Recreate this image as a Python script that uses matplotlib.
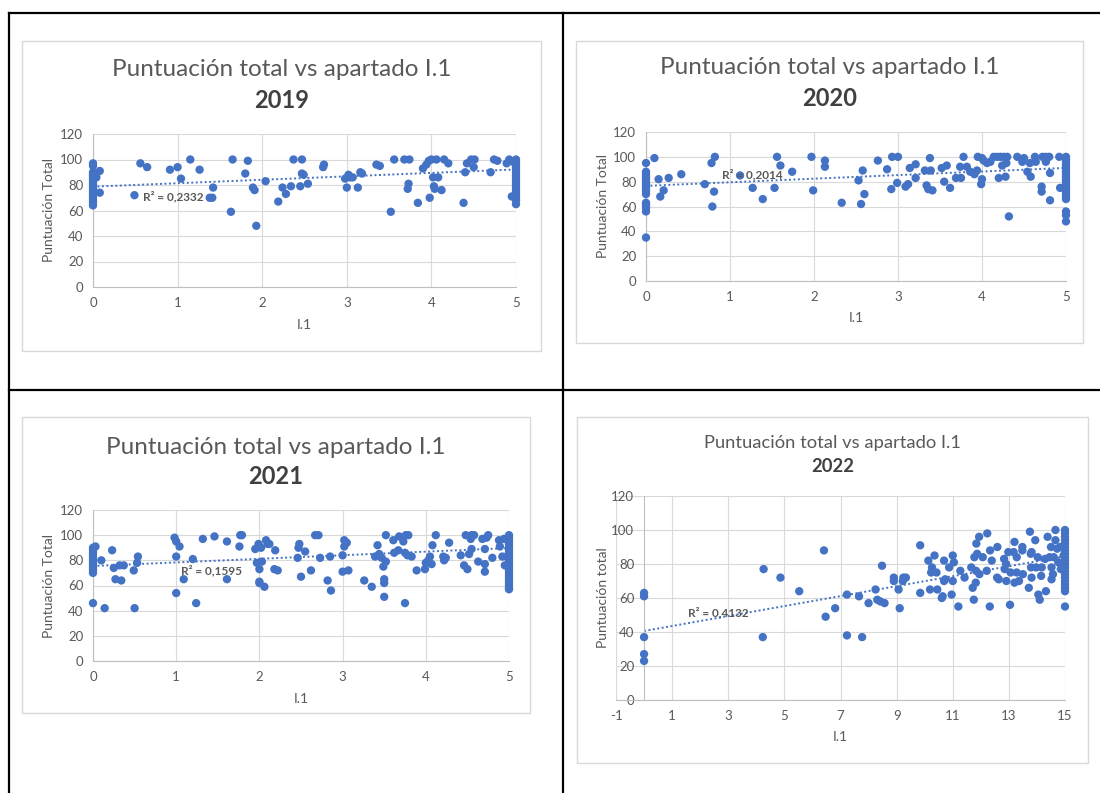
import matplotlib
matplotlib.use("Agg")
import matplotlib.pyplot as plt
from matplotlib.lines import Line2D
from matplotlib.patches import Rectangle
import numpy as np

plt.rcParams['font.family'] = ['Lato', 'DejaVu Sans']
plt.rcParams['axes.unicode_minus'] = False

# ---- data ----
years = ["2019", "2020", "2021", "2022"]

i11_2019 = [0, 0, 0, 0, 0, 0, 0, 0, 0, 0, 0, 0, 0, 0, 0, 0,
            0.04, 0.08, 0.08, 0.49, 0.56, 0.64, 0.91, 1.0, 1.04, 1.15,
            1.26, 1.38, 1.41, 1.42, 1.63, 1.65, 1.80, 1.83, 1.89, 1.91,
            1.93, 2.04, 2.19, 2.24, 2.28, 2.34, 2.37, 2.47, 2.45, 2.47,
            2.49, 2.54, 2.72, 2.73, 2.98, 3.0, 3.02, 3.04, 3.07, 3.13,
            3.16, 3.18, 3.35, 3.39, 3.52, 3.56, 3.68, 3.74, 3.72, 3.73,
            3.84, 3.9, 3.94, 3.97, 3.98, 4.0, 4.06, 4.02, 4.03, 4.04,
            4.08, 4.12, 4.15, 4.2, 4.38, 4.40, 4.42, 4.47, 4.51, 4.5,
            4.7, 4.74, 4.78, 4.89, 4.92, 4.95, 4.97,
            5, 5, 5, 5, 5, 5, 5, 5, 5, 5, 5, 5, 5, 5, 5, 5, 5, 5]
total_2019 = [97, 95, 90, 88, 86, 84, 82, 80, 78, 76, 74, 72, 70, 68, 66, 64,
              86, 91, 74, 72, 97, 94, 92, 94, 85, 100,
              92, 70, 70, 78, 59, 100, 89, 99, 78, 76,
              48, 83, 67, 78, 73, 79, 100, 100, 79, 89,
              88, 81, 94, 96, 85, 78, 88, 86, 86, 78,
              90, 89, 96, 95, 59, 100, 100, 100, 77, 81,
              66, 93, 96, 99, 70, 100, 100, 86, 79, 77,
              86, 76, 100, 97, 66, 90, 97, 100, 100, 94,
              90, 100, 99, 97, 100, 71, 98,
              100, 98, 96, 94, 92, 90, 88, 86, 84, 82, 80, 78, 76, 74, 72, 70, 68, 65]

i11_2020 = [0, 0, 0, 0, 0, 0, 0, 0, 0, 0, 0, 0, 0, 0, 0, 0,
            0.1, 0.15, 0.17, 0.21, 0.27, 0.42, 0.70, 0.78, 0.82, 0.81,
            0.79, 1.12, 1.27, 1.39, 1.53, 1.56, 1.6, 1.74, 1.97, 1.99,
            2.13, 2.13, 2.33, 2.53, 2.56, 2.58, 2.6, 2.76, 2.87, 2.93,
            2.92, 3.0, 2.99, 3.09, 3.12, 3.14, 3.21, 3.21, 3.32, 3.34,
            3.36, 3.38, 3.39, 3.41, 3.52, 3.55, 3.58, 3.62, 3.69, 3.74,
            3.75, 3.78, 3.82, 3.86, 3.91, 3.94, 3.95, 4.0, 4.0, 3.99,
            4.02, 4.06, 4.1, 4.14, 4.18, 4.22, 4.26, 4.30, 4.2, 4.24,
            4.28, 4.29, 4.32, 4.42, 4.48, 4.5, 4.54, 4.58, 4.57, 4.63,
            4.64, 4.71, 4.71, 4.72, 4.76, 4.80, 4.76, 4.81, 4.81, 4.92,
            4.93,
            5, 5, 5, 5, 5, 5, 5, 5, 5, 5, 5, 5, 5, 5, 5, 5, 5, 5, 5, 5, 5]
total_2020 = [95, 88, 86, 84, 82, 80, 78, 76, 74, 72, 70, 63, 61, 59, 56, 35,
              99, 82, 68, 73, 83, 86, 78, 95, 100, 72,
              60, 85, 75, 66, 75, 100, 93, 88, 100, 73,
              97, 92, 63, 81, 62, 89, 70, 97, 90, 100,
              74, 100, 79, 76, 78, 91, 94, 83, 89, 77,
              74, 99, 89, 73, 91, 80, 93, 75, 83, 92,
              83, 100, 92, 88, 86, 89, 100, 99, 82, 78,
              97, 95, 96, 100, 100, 100, 100, 100, 83, 93,
              84, 95, 52, 100, 96, 99, 88, 84, 95, 100,
              96, 76, 72, 100, 100, 100, 96, 87, 65, 100,
              75,
              100, 98, 96, 94, 92, 90, 88, 86, 84, 82, 80, 78, 76, 74, 72, 70, 68, 66, 56, 53, 48]

i11_2021 = [0, 0, 0, 0, 0, 0, 0, 0, 0, 0, 0, 0,
            0.03, 0.1, 0.14, 0.23, 0.25, 0.27, 0.34, 0.32, 0.37, 0.49,
            0.5, 0.54, 0.53, 0.98, 1.0, 1.0, 1.0, 1.04, 1.09, 1.2,
            1.24, 1.32, 1.46, 1.61, 1.61, 1.76, 1.77, 1.79, 1.95, 1.97,
            1.99, 2.0, 2.0, 2.0, 2.02, 2.03, 2.06, 2.08, 2.1, 2.12,
            2.18, 2.19, 2.22, 2.46, 2.47, 2.48, 2.5, 2.55, 2.62, 2.67,
            2.71, 2.73, 2.82, 2.85, 2.86, 3.0, 3.0, 3.02, 3.02, 3.05,
            3.07, 3.26, 3.35, 3.42, 3.39, 3.44, 3.47, 3.49, 3.52, 3.5,
            3.5, 3.5, 3.52, 3.61, 3.62, 3.67, 3.68, 3.73, 3.75, 3.75,
            3.76, 3.79, 3.78, 3.83, 3.89, 3.99, 4.0, 4.03, 4.05, 4.07,
            4.08, 4.12, 4.21, 4.22, 4.24, 4.28, 4.42, 4.46, 4.5, 4.48,
            4.55, 4.58, 4.52, 4.54, 4.55, 4.63, 4.68, 4.71, 4.71, 4.71,
            4.73, 4.75, 4.8, 4.88, 4.89, 4.92, 4.94, 4.95,
            5, 5, 5, 5, 5, 5, 5, 5, 5, 5, 5, 5, 5, 5, 5, 5, 5, 5, 5, 5, 5, 5, 5]
total_2021 = [90, 88, 86, 84, 82, 80, 78, 76, 74, 72, 70, 46,
              91, 80, 42, 88, 74, 65, 64, 76, 76, 72,
              42, 83, 78, 98, 95, 83, 54, 91, 65, 81,
              46, 97, 99, 95, 65, 91, 100, 100, 89, 78,
              93, 73, 63, 62, 90, 79, 59, 96, 93, 93,
              73, 88, 72, 82, 90, 93, 67, 87, 72, 100,
              100, 82, 64, 83, 56, 84, 71, 96, 91, 94,
              72, 64, 59, 92, 83, 85, 82, 75, 79, 65,
              62, 51, 100, 96, 86, 88, 99, 95, 86, 46,
              100, 100, 84, 83, 72, 73, 78, 80, 83, 77,
              92, 100, 83, 80, 82, 94, 84, 76, 73, 100,
              100, 100, 85, 97, 89, 79, 97, 89, 77, 71,
              98, 100, 82, 96, 91, 83, 97, 76,
              100, 98, 96, 94, 92, 90, 88, 86, 84, 82, 80, 78, 76, 74, 72, 70, 68, 66, 64, 62, 60, 58, 57]

i11_2022 = [0, 0, 0, 0, 0,
            4.26, 4.23, 4.86, 5.53, 6.41, 6.47, 6.81, 7.23, 7.23, 7.66,
            7.77, 8.0, 8.25, 8.31, 8.42, 8.48, 8.57, 8.9, 8.9, 9.07,
            9.11, 9.24, 9.22, 9.33, 9.84, 9.84, 10.13, 10.19, 10.23, 10.26,
            10.35, 10.42, 10.45, 10.61, 10.64, 10.69, 10.69, 10.73, 10.87, 11.0,
            11.04, 11.0, 10.96, 11.2, 11.27, 11.42, 11.66, 11.71, 11.75, 11.77,
            11.83, 11.82, 11.84, 11.87, 11.94, 11.95, 12.07, 12.23, 12.21, 12.33,
            12.39, 12.32, 12.59, 12.58, 12.64, 12.83, 12.9, 12.85, 12.91, 12.98,
            13.04, 13.06, 13.2, 13.17, 13.2, 13.28, 13.28, 13.36, 13.5, 13.48,
            13.48, 13.71, 13.75, 13.78, 13.81, 13.81, 13.79, 13.94, 13.97, 14.03,
            14.05, 14.1, 14.17, 14.15, 14.29, 14.32, 14.38, 14.45, 14.5, 14.52,
            14.52, 14.6, 14.66, 14.66, 14.57, 14.72, 14.76, 14.83, 14.85, 14.95,
            15, 15, 15, 15, 15, 15, 15, 15, 15, 15, 15, 15, 15, 15, 15, 15, 15, 15, 15, 15]
total_2022 = [63, 61, 37, 27, 23,
              77, 37, 72, 64, 88, 49, 54, 62, 38, 61,
              37, 57, 65, 59, 58, 79, 57, 72, 70, 65,
              54, 72, 70, 72, 91, 63, 82, 65, 75, 78,
              85, 75, 65, 60, 61, 82, 70, 71, 78, 85,
              81, 70, 62, 55, 76, 72, 78, 66, 59, 84,
              76, 69, 92, 86, 96, 74, 84, 98, 76, 88,
              82, 55, 90, 72, 71, 83, 80, 77, 70, 87,
              56, 75, 93, 87, 69, 84, 75, 70, 74, 88,
              90, 66, 99, 86, 87, 72, 78, 94, 78, 84,
              62, 59, 78, 73, 83, 64, 96, 84, 90, 78,
              71, 84, 100, 94, 74, 89, 81, 90, 77, 85,
              100, 98, 96, 94, 92, 90, 88, 86, 84, 82, 80, 78, 76, 74, 72, 70, 68, 66, 64, 55]

# linear trend (intercept, slope) and R² as shown by Excel
trend_2019 = [78.7, 2.7]
trend_2020 = [76.6, 2.9]
trend_2021 = [75.5, 2.85]
trend_2022 = [40.6, 2.93]
r2_labels = ["R² = 0,2332", "R² = 0,2014", "R² = 0,1595", "R² = 0,4132"]
ylabels = ["Puntuación Total", "Puntuación Total", "Puntuación Total", "Puntuación total"]

xs = [i11_2019, i11_2020, i11_2021, i11_2022]
ys = [total_2019, total_2020, total_2021, total_2022]
trends = [trend_2019, trend_2020, trend_2021, trend_2022]

# ---- layout (pixels) ----
W, H = 1100, 793
BLUE = "#4472C4"
GRAY = "#595959"

fig = plt.figure(figsize=(W / 100, H / 100), dpi=100)


def fx(x):
    return x / W


def fy(y):
    return 1 - y / H


def rect(x0, y0, x1, y1):
    return [fx(x0), fy(y1), (x1 - x0) / W, (y1 - y0) / H]


# table borders
for (x0, y0, x1, y1) in [(9, 13, 1100, 13), (9, 13, 9, 793), (563, 13, 563, 793), (9, 390, 1100, 390)]:
    fig.add_artist(Line2D([fx(x0), fx(x1)], [fy(y0), fy(y1)], color="black", lw=1.6))

boxes = [(22, 41, 541, 351), (576, 41, 1083, 343), (22, 417, 530, 713), (577, 417, 1088, 763)]
axes_px = [(93, 134, 516, 287), (646, 132, 1066, 281), (93, 510, 509, 661), (616, 496, 1065, 700)]
title_y = [(69, 100), (68, 99), (447, 477), (443, 467)]
title_size = [(17.5, 17), (17.5, 17), (17.5, 17), (13.2, 13.2)]
ylabel_x = [49, 603, 49, 603]
xlabel_y = [325, 318, 699, 737]
r2_pos = [(143, 197), (722, 175), (181, 571), (688, 613)]

for k in range(4):
    bx0, by0, bx1, by1 = boxes[k]
    fig.add_artist(Rectangle((fx(bx0), fy(by1)), (bx1 - bx0) / W, (by1 - by0) / H,
                             transform=fig.transFigure, facecolor="white",
                             edgecolor="#D9D9D9", lw=1.0, zorder=0))
    ax = fig.add_axes(rect(*axes_px[k]))
    ax.set_facecolor("none")
    x = np.array(xs[k])
    y = np.array(ys[k])
    a, b = trends[k]
    if k < 3:
        ax.set_xlim(0, 5)
        ax.set_xticks(range(0, 6))
    else:
        ax.set_xlim(-1, 15)
        ax.set_xticks(range(-1, 16, 2))
    ax.set_ylim(0, 120)
    ax.set_yticks(range(0, 121, 20))
    ax.grid(True, color="#D9D9D9", lw=0.8, zorder=0)
    ax.set_axisbelow(True)
    for s in ["top", "right"]:
        ax.spines[s].set_visible(False)
    ax.spines["bottom"].set_color("#BFBFBF")
    ax.spines["left"].set_color("#BFBFBF")
    if k == 3:
        ax.spines["left"].set_position(("data", 0))
    ax.tick_params(length=0, labelsize=9.5, labelcolor=GRAY, pad=7)

    tx = np.array([x.min(), x.max()])
    ax.plot(tx, a + b * tx, color=BLUE, lw=1.4, ls=(0, (1, 1.3)), zorder=2)
    ax.scatter(x, y, s=36, color=BLUE, edgecolors="none", zorder=3, clip_on=False)

    cx = (bx0 + bx1) / 2
    fig.text(fx(cx), fy(title_y[k][0]), "Puntuación total vs apartado I.1", ha="center", va="center",
             fontsize=title_size[k][0], color=GRAY)
    fig.text(fx(cx), fy(title_y[k][1]), years[k], ha="center", va="center",
             fontsize=title_size[k][1], color="#404040", fontweight="bold")
    ay0, ay1 = axes_px[k][1], axes_px[k][3]
    fig.text(fx(ylabel_x[k]), fy((ay0 + ay1) / 2), ylabels[k], rotation=90, ha="center", va="center",
             fontsize=10, color=GRAY)
    ax0, ax1 = axes_px[k][0], axes_px[k][2]
    fig.text(fx((ax0 + ax1) / 2), fy(xlabel_y[k]), "I.1", ha="center", va="center",
             fontsize=10, color=GRAY)
    fig.text(fx(r2_pos[k][0]), fy(r2_pos[k][1]), r2_labels[k], ha="left", va="center",
             fontsize=8.5, color=GRAY, fontweight="bold", zorder=5)

fig.savefig("out.png", dpi=100)
